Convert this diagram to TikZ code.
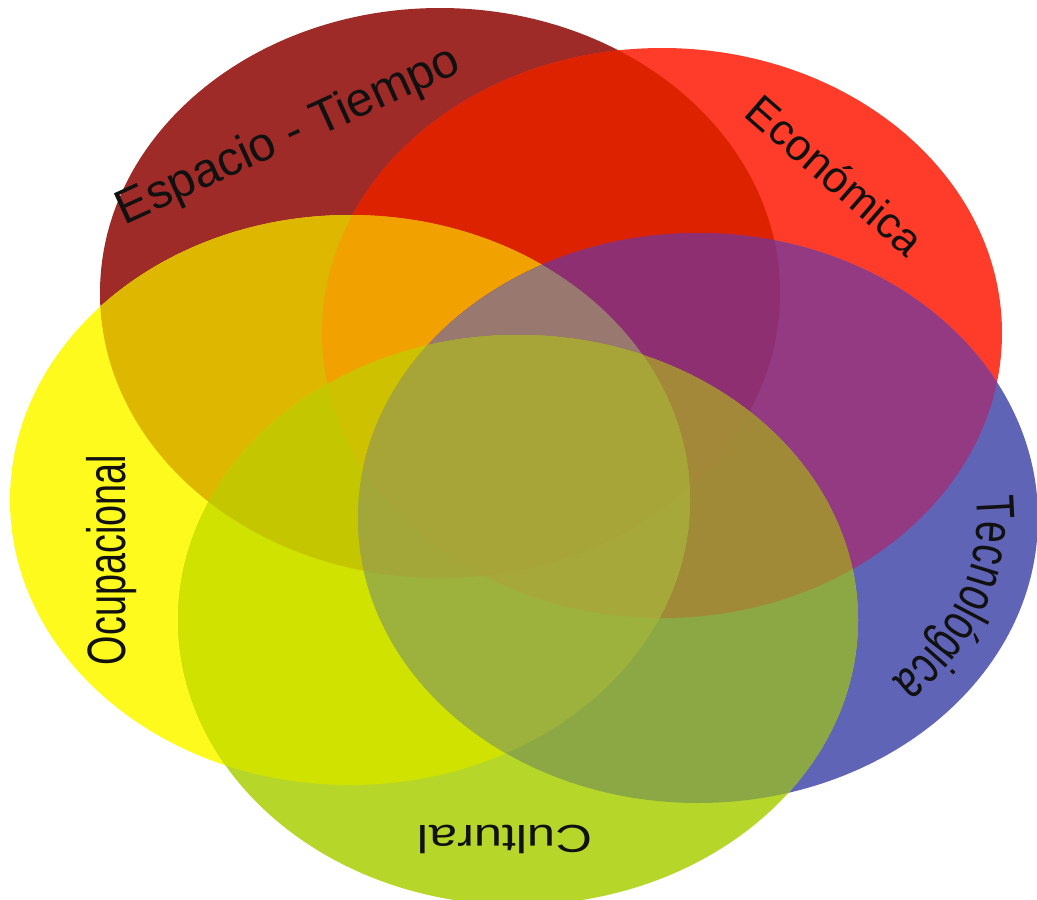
\documentclass[tikz,border=0pt]{standalone}
\usepackage{fontspec}
\setmainfont{Liberation Sans}
\newfontfamily\tecfont[FakeStretch=0.72]{Liberation Sans}
\usepackage{graphicx}
\usetikzlibrary{decorations.text}

% single sets
\definecolor{cE}{HTML}{9E2B28}
\definecolor{cC}{HTML}{FF3C2A}
\definecolor{cT}{HTML}{5F64B6}
\definecolor{cO}{HTML}{FFFA1E}
\definecolor{cU}{HTML}{B6D72A}
% pairs
\definecolor{cEC}{HTML}{DD2200}
\definecolor{cEO}{HTML}{DDB700}
\definecolor{cCT}{HTML}{933A82}
\definecolor{cOU}{HTML}{CFE200}
\definecolor{cTU}{HTML}{8BA845}
% triples
\definecolor{cECO}{HTML}{F2A200}
\definecolor{cECT}{HTML}{8D2F70}
\definecolor{cEOU}{HTML}{C4C600}
\definecolor{cCTU}{HTML}{A08A38}
\definecolor{cOTU}{HTML}{9CB23C}
% quadruples
\definecolor{cECOT}{HTML}{997870}
\definecolor{cECOU}{HTML}{CDC100}
\definecolor{cECTU}{HTML}{A28838}
\definecolor{cCOTU}{HTML}{A6A93A}
\definecolor{cEOTU}{HTML}{A3A73A}
% all five
\definecolor{cALL}{HTML}{A7A537}
\definecolor{labeltext}{HTML}{111111}

\newcommand\ellE{(440,293) ellipse [x radius=340, y radius=285]}
\newcommand\ellC{(662,333) ellipse [x radius=340, y radius=285]}
\newcommand\ellT{(698,518) ellipse [x radius=340, y radius=285]}
\newcommand\ellO{(350,500) ellipse [x radius=340, y radius=285]}
\newcommand\ellU{(518,620) ellipse [x radius=340, y radius=285]}

\begin{document}
\begin{tikzpicture}[x=1pt,y=-1pt,
  lbl/.style={inner sep=0pt, text=labeltext}]
\useasboundingbox (0,0) rectangle (1037,900);

% --- single sets
\fill[cE] \ellE;
\fill[cC] \ellC;
\fill[cT] \ellT;
\fill[cO] \ellO;
\fill[cU] \ellU;

% --- pairs
\begin{scope}\clip \ellE; \fill[cEC] \ellC; \end{scope}
\begin{scope}\clip \ellE; \fill[cEO] \ellO; \end{scope}
\begin{scope}\clip \ellC; \fill[cCT] \ellT; \end{scope}
\begin{scope}\clip \ellO; \fill[cOU] \ellU; \end{scope}
\begin{scope}\clip \ellT; \fill[cTU] \ellU; \end{scope}

% --- triples
\begin{scope}\clip \ellE; \clip \ellC; \fill[cECO] \ellO; \end{scope}
\begin{scope}\clip \ellE; \clip \ellC; \fill[cECT] \ellT; \end{scope}
\begin{scope}\clip \ellE; \clip \ellO; \fill[cEOU] \ellU; \end{scope}
\begin{scope}\clip \ellC; \clip \ellT; \fill[cCTU] \ellU; \end{scope}
\begin{scope}\clip \ellO; \clip \ellT; \fill[cOTU] \ellU; \end{scope}

% --- quadruples
\begin{scope}\clip \ellE; \clip \ellC; \clip \ellO; \fill[cECOT] \ellT; \end{scope}
\begin{scope}\clip \ellE; \clip \ellC; \clip \ellO; \fill[cECOU] \ellU; \end{scope}
\begin{scope}\clip \ellE; \clip \ellC; \clip \ellT; \fill[cECTU] \ellU; \end{scope}
\begin{scope}\clip \ellC; \clip \ellO; \clip \ellT; \fill[cCOTU] \ellU; \end{scope}
\begin{scope}\clip \ellE; \clip \ellO; \clip \ellT; \fill[cEOTU] \ellU; \end{scope}

% --- all five
\begin{scope}\clip \ellE; \clip \ellC; \clip \ellO; \clip \ellT; \fill[cALL] \ellU; \end{scope}

% --- labels
\node[lbl, rotate=24.5, anchor=base] (lE) at (294,148)
  {\fontsize{48}{48}\selectfont Espacio - Tiempo};
\node[lbl, rotate=-41, anchor=base] (lC) at (825,187)
  {\fontsize{44}{44}\selectfont Económica};
\node[lbl, rotate=90, anchor=base] (lO) at (125,560)
  {\fontsize{54}{54}\selectfont\scalebox{0.7}[1]{Ocupacional}};
\node[lbl, rotate=180, anchor=base] (lU) at (505,825)
  {\fontsize{39}{39}\selectfont\scalebox{1.3}[1]{Cultural}};
\path[decorate, decoration={text along path, text align=left,
    text={|\tecfont\fontsize{54}{54}\selectfont\color{labeltext}|Tecnológica}}]
  (975.8,496.9) arc[start angle=-5.4, end angle=62, x radius=279, y radius=224];
\end{tikzpicture}
\end{document}
